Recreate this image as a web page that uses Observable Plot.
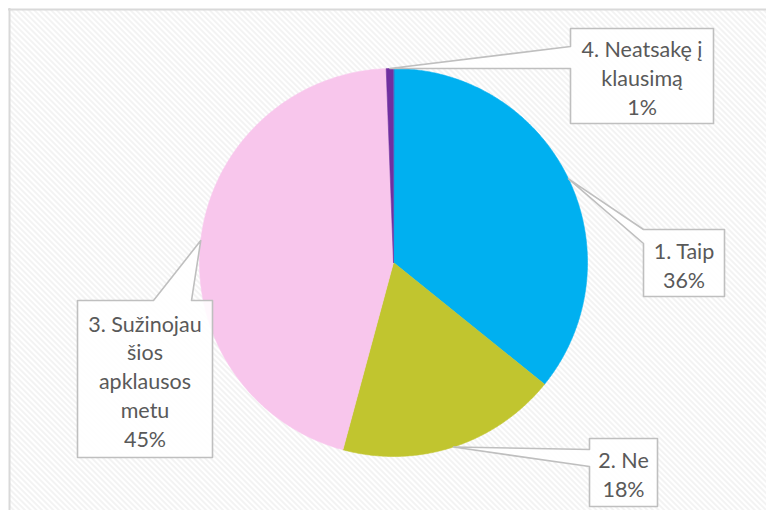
<!DOCTYPE html>
<html><head><meta charset="utf-8">
<script src="https://cdn.jsdelivr.net/npm/d3@7"></script>
<script src="https://cdn.jsdelivr.net/npm/@observablehq/plot@0.6"></script>
<style>
body{margin:0;background:#fff}
g[aria-label="pie-shadow"]{filter:drop-shadow(0px 2px 3px rgba(0,0,0,0.3))}
</style>
</head><body><div id="chart"></div>
<script>
// ---- data ----
const categories = ["1. Taip", "2. Ne", "3. Sužinojau šios apklausos metu", "4. Neatsakę į klausimą"];
const shares = [35.8, 18.4, 45.2, 0.6];
const percentLabels = ["36%", "18%", "45%", "1%"];
const labelLines = [["1. Taip"], ["2. Ne"], ["3. Sužinojau", "šios", "apklausos", "metu"], ["4. Neatsakę į", "klausimą"]];
const sliceColors = ["#00B0F0", "#C1C52F", "#F8C6EC", "#7030A0"];

// ---- layout ----
const W = 766, H = 510, CX = 393, CY = 262, R = 194;
const callouts = [
  {box: [643, 229, 724, 296], side: "left", base: [229, 243]},
  {box: [589, 438, 657, 506], side: "left", base: [449, 466]},
  {box: [77, 300, 212, 457], side: "top", base: [153, 191]},
  {box: [570, 28, 713, 123], side: "left", base: [46, 68]}
];

const arcs = d3.pie().sort(null).value(d => d)(shares);

// pie slice outlines derived from the data
const slices = arcs.map((a, i) => {
  const pts = [{x: CX, y: CY}];
  const n = Math.max(2, Math.ceil((a.endAngle - a.startAngle) / (Math.PI / 360)));
  for (let k = 0; k <= n; k++) {
    const t = a.startAngle + (a.endAngle - a.startAngle) * k / n;
    pts.push({x: CX + R * Math.sin(t), y: CY - R * Math.cos(t)});
  }
  return {pts, color: sliceColors[i]};
});

// callout shapes: box + wedge pointing to slice mid-angle on the rim
const calloutPts = [];
const labelData = [];
arcs.forEach((a, i) => {
  const m = (a.startAngle + a.endAngle) / 2;
  const tip = [CX + R * Math.sin(m), CY - R * Math.cos(m)];
  const c = callouts[i];
  const [x0, y0, x1, y1] = c.box;
  let pts;
  if (c.side === "left") {
    pts = [[x0, y0], [x1, y0], [x1, y1], [x0, y1], [x0, c.base[1]], tip, [x0, c.base[0]]];
  } else {
    pts = [[x0, y0], [c.base[0], y0], tip, [c.base[1], y0], [x1, y0], [x1, y1], [x0, y1]];
  }
  pts.forEach(p => calloutPts.push({key: i, x: p[0], y: p[1]}));
  labelData.push({x: (x0 + x1) / 2, y: (y0 + y1) / 2 + 1, text: [...labelLines[i], percentLabels[i]].join("\n")});
});

const plot = Plot.plot({
  width: W, height: H,
  margin: 0,
  x: {domain: [0, W], range: [0, W], axis: null},
  y: {domain: [0, H], range: [0, H], axis: null},
  style: {background: "white", overflow: "visible"},
  marks: [
    Plot.rect([{x1: 10, x2: W, y1: 10, y2: H}], {x1: "x1", x2: "x2", y1: "y1", y2: "y2", fill: "url(#hatch)"}),
    Plot.ruleX([{x: 9, y1: 8, y2: H}], {x: "x", y1: "y1", y2: "y2", stroke: "#D9D9D9", strokeWidth: 2}),
    Plot.ruleY([{y: 9, x1: 8, x2: W}], {y: "y", x1: "x1", x2: "x2", stroke: "#D9D9D9", strokeWidth: 2}),
    Plot.dot([{x: CX, y: CY}], {x: "x", y: "y", r: R, fill: "#ffffff", stroke: "none", ariaLabel: "pie-shadow"}),
    ...slices.map(s => Plot.line(s.pts, {x: "x", y: "y", fill: s.color, stroke: s.color, strokeWidth: 0.6, curve: "linear-closed"})),
    Plot.line(calloutPts, {x: "x", y: "y", z: "key", fill: "white", fillOpacity: 0.88, stroke: "#BFBFBF", strokeWidth: 1.6, curve: "linear-closed"}),
    Plot.text(labelData, {x: "x", y: "y", text: "text", fontSize: 21.5, fontFamily: "Lato", fill: "#595959", lineHeight: 1.34})
  ]
});

// hatch pattern definition
const NS = "http://www.w3.org/2000/svg";
const defs = document.createElementNS(NS, "defs");
const pat = document.createElementNS(NS, "pattern");
pat.setAttribute("id", "hatch");
pat.setAttribute("width", "4");
pat.setAttribute("height", "4");
pat.setAttribute("patternUnits", "userSpaceOnUse");
pat.setAttribute("patternTransform", "rotate(-45)");
const r1 = document.createElementNS(NS, "rect");
r1.setAttribute("width", "4"); r1.setAttribute("height", "4"); r1.setAttribute("fill", "#ffffff");
const r2 = document.createElementNS(NS, "rect");
r2.setAttribute("width", "2"); r2.setAttribute("height", "4"); r2.setAttribute("fill", "#F3F3F3");
pat.appendChild(r1); pat.appendChild(r2);
defs.appendChild(pat);
plot.insertBefore(defs, plot.firstChild);

document.getElementById("chart").appendChild(plot);
</script>
</body></html>
